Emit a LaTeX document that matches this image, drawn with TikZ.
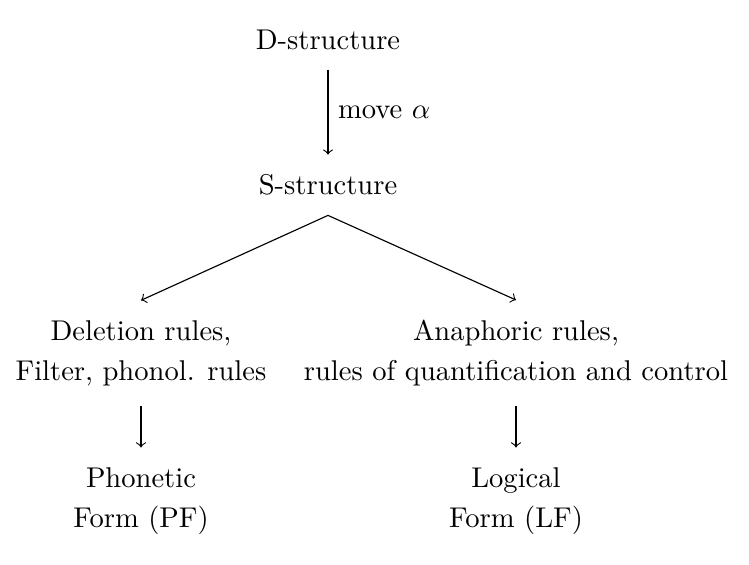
\documentclass[tikz,border=0pt]{standalone}
\usepackage{amsmath}
\usepackage{amssymb}
\usepackage{tikz}

\tikzset{
    level/.style={
           align=center,
           inner sep=2pt,
           outer sep=5pt,
           font=\fontsize{10}{14}\selectfont,
           },
}

\begin{document}
\begin{tikzpicture}[x=0.35pt,y=-0.35pt]
    \useasboundingbox (0,0) rectangle (749,564);

    % the structures, top to bottom
    \node[level] (dstruct) at (328,40) {D-structure};

    \node[level,
    below of=dstruct,
    node distance=50.75pt] (sstruct)
    {S-structure};

    \node[level] (pfrules) at (141,353)
    {Deletion rules,\\Filter, phonol. rules};

    \node[level] (lfrules) at (516,353)
    {Anaphoric rules,\\rules of quantification and control};

    \node[level,
    below of=pfrules,
    node distance=51.8pt] (pf)
    {Phonetic\\Form (PF)};

    \node[level,
    below of=lfrules,
    node distance=51.8pt] (lf)
    {Logical\\Form (LF)};

    % draw the paths
    \path
        (dstruct) edge[->]
            node[right] {move $\alpha$}
        (sstruct)

        (sstruct.south) edge[->] (pfrules.north)
        (sstruct.south) edge[->] (lfrules.north)

        (pfrules) edge[->] (pf)
        (lfrules) edge[->] (lf);
\end{tikzpicture}
\end{document}
